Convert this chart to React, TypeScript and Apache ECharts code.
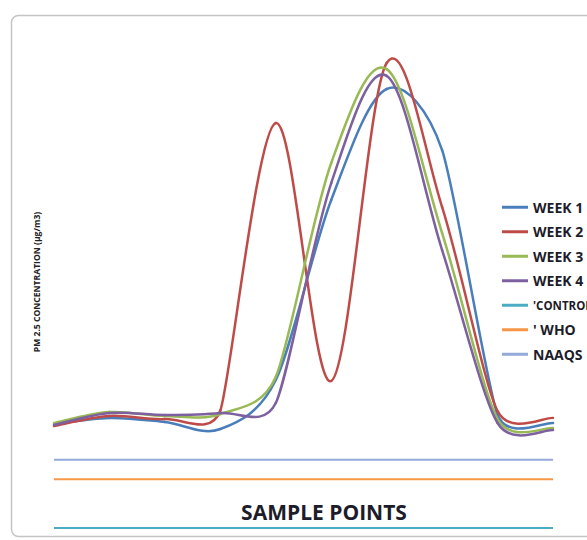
import React, { useEffect, useRef } from "react";
import * as echarts from "echarts";

const samplePoints = ["1", "2", "3", "4", "5", "6", "7", "8", "9", "10"];
const week1 = [53.3, 56.4, 54.3, 50.7, 75.8, 168.0, 224.9, 193.6, 57.9, 53.8];
const week2 = [52.3, 57.4, 55.8, 60.2, 207.5, 75.3, 238.2, 164.4, 59.9, 56.4];
const week3 = [53.8, 59.4, 57.4, 58.4, 77.4, 187.0, 235.1, 151.1, 55.8, 51.2];
const week4 = [52.8, 58.9, 57.9, 58.9, 64.0, 176.7, 231.6, 142.4, 53.8, 50.2];
const control = [0, 0, 0, 0, 0, 0, 0, 0, 0, 0];
const who = [25, 25, 25, 25, 25, 25, 25, 25, 25, 25];
const naaqs = [35, 35, 35, 35, 35, 35, 35, 35, 35, 35];

const weekNames = ["WEEK 1", "WEEK 2", "WEEK 3", "WEEK 4"];
const weekData = [week1, week2, week3, week4];
const weekColors = ["#4A7EBB", "#BE4B48", "#98B954", "#7D60A0"];
const refNames = ["'CONTROL", "' WHO", "NAAQS"];
const refData = [control, who, naaqs];
const refColors = ["#4BACC6", "#F79646", "#93A9D9"];

// Excel-like smoothed curve through the points (pixel coords from api.coord)
function smoothSegments(pts: number[][], color: string) {
  const n = pts.length;
  const off: number[][] = [];
  for (let i = 0; i < n; i++) {
    const p = pts[i];
    const prev = pts[Math.max(0, i - 1)];
    const next = pts[Math.min(n - 1, i + 1)];
    const vx = next[0] - prev[0];
    const vy = next[1] - prev[1];
    const len = Math.hypot(vx, vy) || 1;
    let L = len / 6;
    if (i > 0) L = Math.min(L, Math.hypot(p[0] - prev[0], p[1] - prev[1]) / 2);
    if (i < n - 1) L = Math.min(L, Math.hypot(next[0] - p[0], next[1] - p[1]) / 2);
    off.push([(vx / len) * L, (vy / len) * L]);
  }
  const children: any[] = [];
  for (let i = 0; i < n - 1; i++) {
    const a = pts[i];
    const b = pts[i + 1];
    children.push({
      type: "bezierCurve",
      shape: {
        x1: a[0],
        y1: a[1],
        cpx1: a[0] + off[i][0],
        cpy1: a[1] + off[i][1],
        cpx2: b[0] - off[i + 1][0],
        cpy2: b[1] - off[i + 1][1],
        x2: b[0],
        y2: b[1],
      },
      style: { fill: null, stroke: color, lineWidth: 2.5, lineCap: "round" },
    });
  }
  return { type: "group", children };
}

export default function App() {
  const ref = useRef<HTMLDivElement>(null);
  useEffect(() => {
    if (!ref.current) return;
    const chart = echarts.init(ref.current, undefined, { renderer: "svg" });
    const font = "'Open Sans', 'Liberation Sans', sans-serif";
    const weekSeries = weekNames.map((name, si) => ({
      name,
      type: "custom",
      data: weekData[si].map((v, i) => [i, v]),
      encode: { x: 0, y: 1 },
      itemStyle: { color: weekColors[si] },
      clip: false,
      z: 3,
      renderItem: (params: any, api: any) => {
        if (params.dataIndex !== 0) return null;
        const pts = weekData[si].map((v, i) => api.coord([i, v]));
        return smoothSegments(pts, weekColors[si]);
      },
    }));
    const refSeries = refNames.map((name, i) => ({
      name,
      type: "line",
      data: refData[i],
      showSymbol: false,
      symbol: "none",
      color: refColors[i],
      lineStyle: { width: 2, color: refColors[i] },
      z: 2,
    }));
    chart.setOption({
      animation: false,
      backgroundColor: "#ffffff",
      grid: { left: 54, right: 34, top: 40, bottom: 12 },
      xAxis: {
        type: "category",
        data: samplePoints,
        boundaryGap: false,
        show: false,
      },
      yAxis: { type: "value", min: 0, max: 250, show: false },
      legend: {
        orient: "vertical",
        left: 497,
        top: 195,
        icon: "rect",
        itemWidth: 26,
        itemHeight: 3,
        itemGap: 10,
        data: [...weekNames, ...refNames],
        formatter: (name: string) =>
          name === "'CONTROL" ? "{s|" + name + "}" : "{b|" + name + "}",
        textStyle: {
          fontFamily: font,
          fontWeight: "bold",
          fontSize: 14,
          color: "#1c1c2a",
          lineHeight: 14.5,
          rich: {
            b: { fontFamily: font, fontWeight: "bold", fontSize: 14, color: "#1c1c2a", lineHeight: 14.5 },
            s: { fontFamily: font, fontWeight: "bold", fontSize: 11.5, color: "#1c1c2a", lineHeight: 14.5 },
          },
        },
      },
      graphic: [
        {
          type: "rect",
          shape: { x: 11.5, y: 15.5, width: 600, height: 521, r: 7 },
          style: { fill: "none", stroke: "#c4c4c4", lineWidth: 1.5 },
          z: -1,
        },
        {
          type: "text",
          x: 37,
          y: 282,
          rotation: Math.PI / 2,
          style: {
            text: "PM 2.5 CONCENTRATION (µg/m3)",
            fontFamily: font,
            fontWeight: "bold",
            fontSize: 8.6,
            fill: "#222222",
            align: "center",
            verticalAlign: "middle",
          },
        },
        {
          type: "text",
          x: 324,
          y: 512,
          style: {
            text: "SAMPLE POINTS",
            fontFamily: font,
            fontWeight: "bold",
            fontSize: 21,
            fill: "#1c1c2a",
            align: "center",
            verticalAlign: "middle",
          },
        },
      ],
      series: [...weekSeries, ...refSeries],
    });
    return () => chart.dispose();
  }, []);
  return (
    <div
      ref={ref}
      style={{ position: "fixed", left: 0, top: 0, width: 587, height: 540 }}
    />
  );
}
